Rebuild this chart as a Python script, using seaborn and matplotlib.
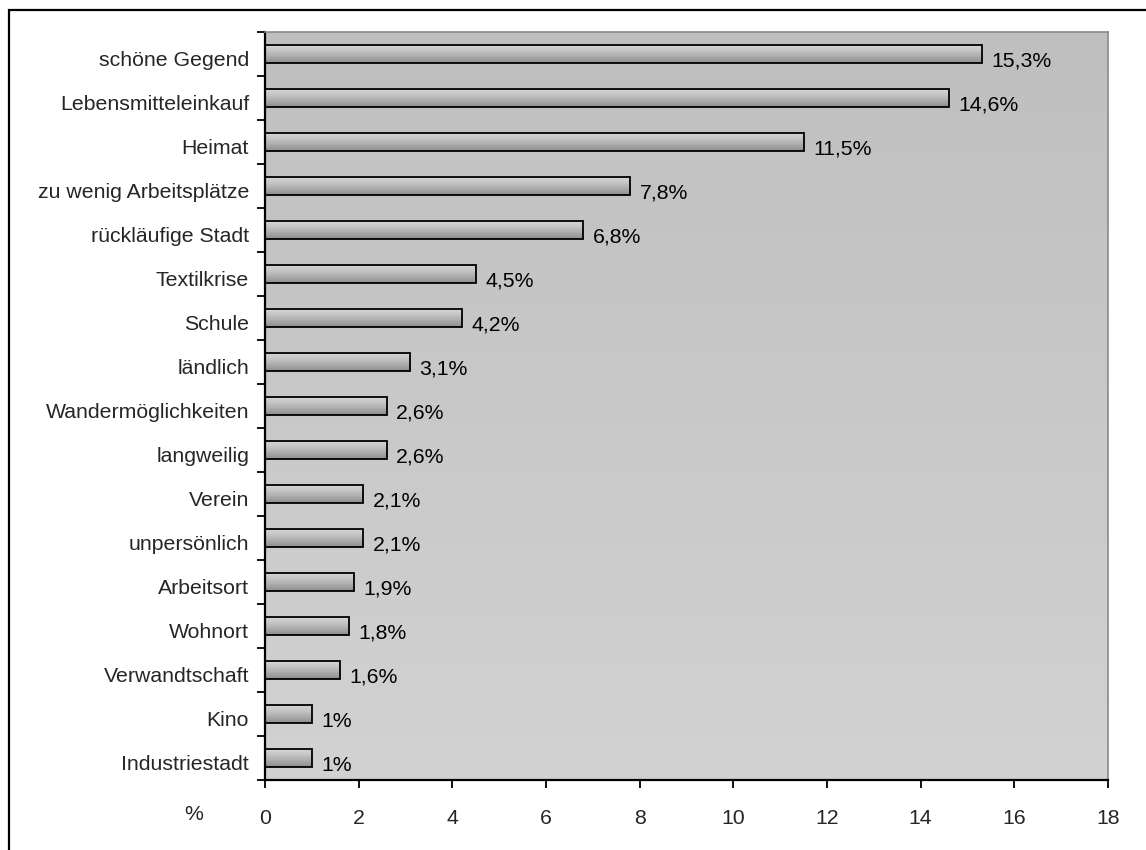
import matplotlib
matplotlib.use("Agg")
import matplotlib.pyplot as plt
import matplotlib.patches as mpatches
import matplotlib.transforms as mtransforms
import numpy as np
import pandas as pd
import seaborn as sns

categories = ["schöne Gegend", "Lebensmitteleinkauf", "Heimat", "zu wenig Arbeitsplätze",
              "rückläufige Stadt", "Textilkrise", "Schule", "ländlich", "Wandermöglichkeiten",
              "langweilig", "Verein", "unpersönlich", "Arbeitsort", "Wohnort",
              "Verwandtschaft", "Kino", "Industriestadt"]
values = [15.3, 14.6, 11.5, 7.8, 6.8, 4.5, 4.2, 3.1, 2.6, 2.6, 2.1, 2.1, 1.9, 1.8, 1.6, 1.0, 1.0]
x_ticks = [0, 2, 4, 6, 8, 10, 12, 14, 16, 18]

sns.set_style("white")
plt.rcParams["font.family"] = ["Liberation Sans", "DejaVu Sans"]
FS = 15.3

df = pd.DataFrame({"Kategorie": categories, "Anteil": values})

fig = plt.figure(figsize=(11.46, 8.5), dpi=100)
ax = fig.add_axes([265 / 1146, 1 - 780 / 850, (1108 - 265) / 1146, (780 - 32) / 850])

sns.barplot(data=df, x="Anteil", y="Kategorie", orient="h", color="#aaaaaa",
            width=0.43, edgecolor="black", linewidth=1.3, ax=ax)

# plot area gradient, darker at the top
bg = np.linspace(0, 1, 256).reshape(-1, 1)
bg_cmap = matplotlib.colors.LinearSegmentedColormap.from_list("bg", ["#bfbfbf", "#d2d2d2"])
ax.patch.set_facecolor("none")
ax.imshow(bg, cmap=bg_cmap, aspect="auto", extent=(0, 1, 0, 1), origin="upper",
          transform=ax.transAxes, zorder=-2, vmin=0, vmax=1)

# bar gradient
bar_cmap = matplotlib.colors.LinearSegmentedColormap.from_list(
    "bar", ["#d8d8d8", "#c6c6c6", "#ababab", "#8e8e8e"])
grad = np.linspace(0, 1, 64).reshape(-1, 1)
for patch in list(ax.patches):
    x0, y0 = patch.get_x(), patch.get_y()
    w, h = patch.get_width(), patch.get_height()
    im = ax.imshow(grad, cmap=bar_cmap, aspect="auto", origin="upper",
                   extent=(x0, x0 + w, y0 + h, y0), zorder=1)
    im.set_clip_path(patch)
    patch.set_facecolor("none")
    patch.set_zorder(2)

for i, v in enumerate(values):
    txt = f"{v:.0f}%" if v == int(v) else f"{v:.1f}%".replace(".", ",")
    ax.text(v + 0.2, i + 0.16, txt, va="center", ha="left", fontsize=FS, color="black")

ax.set_xlim(0, 18)
ax.set_ylim(len(categories) - 0.5, -0.5)
ax.set_xticks(x_ticks)
ax.set_xticklabels([str(t) for t in x_ticks], fontsize=FS)
ax.set_xlabel("")
ax.set_ylabel("")
ax.tick_params(axis="y", which="major", length=0, pad=11.5, labelsize=FS)
ax.set_yticks(np.arange(-0.5, len(categories), 1), minor=True)
ax.tick_params(axis="y", which="minor", length=6, width=1.3, direction="out", color="black", left=True)
ax.tick_params(axis="x", which="major", length=6, width=1.3, direction="out", color="black",
               bottom=True, pad=15)

# Excel-like: labels sit slightly below the category centre
shift = mtransforms.ScaledTranslation(0, -4 / 100, fig.dpi_scale_trans)
for lbl in ax.get_yticklabels():
    lbl.set_transform(lbl.get_transform() + shift)

for side in ["left", "bottom"]:
    ax.spines[side].set_color("black")
    ax.spines[side].set_linewidth(1.6)
for side in ["top", "right"]:
    ax.spines[side].set_color("#8a8a8a")
    ax.spines[side].set_linewidth(1.2)

fig.text(194 / 1146, 1 - 814 / 850, "%", fontsize=FS, ha="center", va="center")

# outer frame (right and bottom edges fall outside the image)
frame = mpatches.Rectangle((9 / 1146, -0.2), 1.3, 1.2 - 10 / 850, transform=fig.transFigure,
                           fill=False, edgecolor="black", linewidth=1.6)
fig.add_artist(frame)

fig.savefig("out.png", dpi=100)
